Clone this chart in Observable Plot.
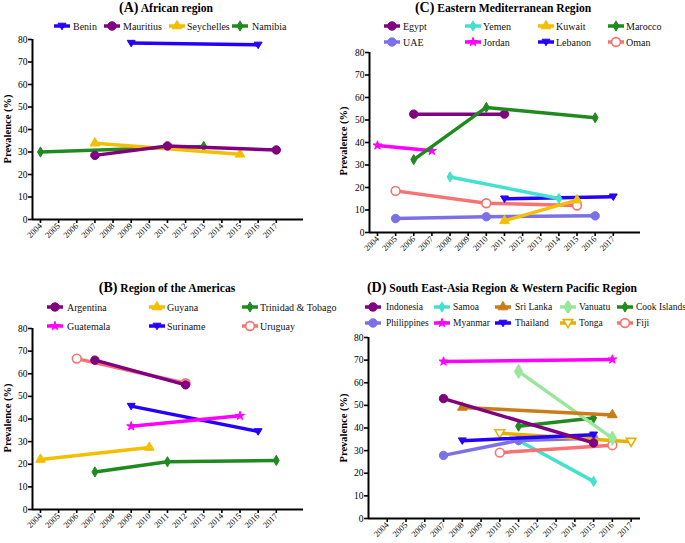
<!DOCTYPE html>
<html><head><meta charset="utf-8">
<script src="https://cdn.jsdelivr.net/npm/d3@7"></script>
<script src="https://cdn.jsdelivr.net/npm/@observablehq/plot@0.6"></script>
<style>
body{margin:0;background:#fff;font-family:'Liberation Serif','DejaVu Serif',serif;}
#root{position:relative;width:685px;height:543px;overflow:hidden;background:#fff;font-family:'Liberation Serif','DejaVu Serif',serif;}
.title{position:absolute;font-weight:bold;white-space:nowrap;transform:translate(-50%,-50%);font-size:11.6px;color:#000;}
.title span{font-size:14px;}
.leg{position:absolute;font-size:10px;white-space:nowrap;transform:translateY(-50%);color:#111;}
.icon{position:absolute;}
.ylab{position:absolute;font-weight:bold;font-size:10.5px;white-space:nowrap;transform:translate(-50%,-50%) rotate(-90deg);}
.pw{position:absolute;}
</style></head><body><div id="root"></div>
<script>
// ---------- data ----------
const yearTicks = [2004,2005,2006,2007,2008,2009,2010,2011,2012,2013,2014,2015,2016,2017];
const prevTicks = [0,10,20,30,40,50,60,70,80];

// (A) African region
const africaSeries = ["Benin","Mauritius","Seychelles","Namibia"];
const africaYears  = [[2009,2016],[2007,2011,2017],[2007,2015],[2004,2013]];
const africaValues = [[78.4,77.6],[28.5,32.7,30.9],[33.9,29.0],[30.0,32.5]];

// (B) Region of the Americas
const americasSeries = ["Argentina","Guyana","Trinidad & Tobago","Guatemala","Suriname","Uruguay"];
const americasYears  = [[2007,2012],[2004,2010],[2007,2011,2017],[2009,2015],[2009,2016],[2006,2012]];
const americasValues = [[66.0,55.1],[22.1,27.4],[16.6,21.1,21.7],[36.8,41.4],[45.7,34.5],[66.7,55.8]];

// (C) Eastern Mediterranean Region
const emSeries = ["Egypt","Yemen","Kuwait","Marocco","UAE","Jordan","Lebanon","Oman"];
const emYears  = [[2006,2011],[2008,2014],[2011,2015],[2006,2010,2016],[2005,2010,2016],[2004,2007],[2011,2017],[2005,2010,2015]];
const emValues = [[52.6,52.6],[24.7,15.1],[5.2,14.4],[32.4,55.6,51.0],[6.2,7.0,7.4],[38.7,36.3],[15.0,15.9],[18.5,13.0,12.0]];

// (D) South East-Asia Region & Western Pacific Region
const seaSeries = ["Indonesia","Samoa","Sri Lanka","Vanuatu","Cook Islands","Philippines","Myanmar","Thailand","Tonga","Fiji"];
const seaYears  = [[2007,2015],[2011,2015],[2008,2016],[2011,2016],[2011,2015],[2007,2011,2015],[2007,2016],[2008,2015],[2010,2017],[2010,2016]];
const seaValues = [[53.0,33.4],[34.5,16.4],[49.1,45.8],[65.0,35.5],[40.8,44.4],[27.9,34.5,35.5],[69.4,70.3],[34.4,37.0],[37.7,33.9],[29.1,32.4]];

// ---------- styles ----------
const triDown = {draw(ctx, size){ const h = Math.sqrt(size)*0.62; ctx.moveTo(-h,-h*0.7); ctx.lineTo(h,-h*0.7); ctx.lineTo(0,h*0.95); ctx.closePath(); }};
const C = {purple:"#800080", blue:"#2400ff", gold:"#f3bf00", green:"#1f8a1f", turq:"#44e0d0", mpurple:"#7b70e8",
           magenta:"#ff00ff", salmon:"#f87272", orange:"#c97c18", lgreen:"#9ae69a", tgold:"#e8b000"};
const S = {
  "Benin":{c:C.blue,s:triDown}, "Mauritius":{c:C.purple,s:"circle"}, "Seychelles":{c:C.gold,s:"triangle"}, "Namibia":{c:C.green,s:"diamond"},
  "Argentina":{c:C.purple,s:"circle"}, "Guyana":{c:C.gold,s:"triangle"}, "Trinidad & Tobago":{c:C.green,s:"diamond"},
  "Guatemala":{c:C.magenta,s:"star"}, "Suriname":{c:C.blue,s:triDown}, "Uruguay":{c:C.salmon,s:"circle",open:true},
  "Egypt":{c:C.purple,s:"circle"}, "Yemen":{c:C.turq,s:"diamond"}, "Kuwait":{c:C.gold,s:"triangle"}, "Marocco":{c:C.green,s:"diamond"},
  "UAE":{c:C.mpurple,s:"circle"}, "Jordan":{c:C.magenta,s:"star"}, "Lebanon":{c:C.blue,s:triDown}, "Oman":{c:C.salmon,s:"circle",open:true},
  "Indonesia":{c:C.purple,s:"circle"}, "Samoa":{c:C.turq,s:"diamond"}, "Sri Lanka":{c:C.orange,s:"triangle"}, "Vanuatu":{c:C.lgreen,s:"diamond",big:true},
  "Cook Islands":{c:C.green,s:"diamond"}, "Philippines":{c:C.mpurple,s:"circle"}, "Myanmar":{c:C.magenta,s:"star"},
  "Thailand":{c:C.blue,s:triDown}, "Tonga":{c:C.tgold,s:triDown,open:true}, "Fiji":{c:C.salmon,s:"circle",open:true}
};
const symMap = {circle:d3.symbolCircle, diamond:d3.symbolDiamond, star:d3.symbolStar, triangle:d3.symbolTriangle};
const rFor = st => st.open ? 4.4 : st.big ? 4.3 : st.s==="circle" ? 4.2 : st.s==="star" ? 2.8 : st.s==="diamond" ? 3.1 : 3.6;

const root = document.getElementById("root");
function el(tag, cls, css, html){ const e=document.createElement(tag); if(cls) e.className=cls; Object.assign(e.style, css||{}); if(html!=null) e.innerHTML=html; root.appendChild(e); return e; }

function legendIcon(name, cx, cy){
  const st = S[name];
  const svg = d3.create("svg").attr("width",18).attr("height",12).attr("class","icon")
    .style("left",(cx-9)+"px").style("top",(cy-6)+"px");
  svg.append("line").attr("x1",1).attr("x2",17).attr("y1",6).attr("y2",6).attr("stroke",st.c).attr("stroke-width",3.5);
  const type = typeof st.s === "string" ? symMap[st.s] : st.s;
  const r = rFor(st);
  svg.append("path").attr("transform","translate(9,6)").attr("d", d3.symbol(type, Math.PI*r*r)())
    .attr("fill", st.open ? "#fff" : st.c).attr("stroke", st.c).attr("stroke-width", st.open?1.6:1);
  root.appendChild(svg.node());
}

function panel(cfg){
  const {series, years, values, order, svgLeft, svgTop, yAxisX, y80, y0, axisRight, xDomain, mb} = cfg;
  const data = series.flatMap((s,i)=> years[i].map((yr,j)=>({series:s, year:yr, value:values[i][j]})));
  const marks = [
    Plot.axisX({ticks: yearTicks, tickFormat: d=>String(d), tickRotate:-45, tickSize:4, tickPadding:1, fontSize:8.5, strokeWidth:1.6, label:null}),
    Plot.axisY({ticks: prevTicks, tickSize:4, tickPadding:1, fontSize:9.5, strokeWidth:1.6, label:null}),
    Plot.ruleY([0], {strokeWidth:2}),
    Plot.ruleX([xDomain[0]], {y1:0, y2:80, strokeWidth:2})
  ];
  for (const name of order){
    const st = S[name];
    const rows = data.filter(d=>d.series===name);
    marks.push(Plot.line(rows, {x:"year", y:"value", stroke:st.c, strokeWidth:3.5}));
    marks.push(Plot.dot(rows, {x:"year", y:"value", symbol:st.s, r: rFor(st),
      fill: st.open ? "#fff" : st.c, stroke: st.c, strokeWidth: st.open?1.6:1}));
  }
  const width = axisRight - svgLeft + 10;
  const height = (y0 - svgTop) + mb;
  const p = Plot.plot({
    width, height,
    marginLeft: yAxisX - svgLeft, marginRight: 10, marginTop: y80 - svgTop, marginBottom: mb,
    x:{domain:xDomain}, y:{domain:[0,80]},
    style:{fontFamily:"'Liberation Serif','DejaVu Serif',serif", background:"transparent", color:"#000", overflow:"visible"},
    marks
  });
  const w = el("div","pw",{left:svgLeft+"px", top:svgTop+"px"});
  w.appendChild(p);
}

// ---------- panel A ----------
panel({series:africaSeries, years:africaYears, values:africaValues, order:["Namibia","Seychelles","Mauritius","Benin"],
  svgLeft:0, svgTop:30, yAxisX:32, y80:39, y0:219, axisRight:303, xDomain:[2003.56,2018.5], mb:35});
el("div","title",{left:"166px", top:"8px"},"<span>(A)</span> African region");
el("div","ylab",{left:"7px", top:"129px"},"Prevalence (%)");
[[62,73],[112,123],[177,187],[240,252]].forEach(([ix,tx],i)=>{ legendIcon(africaSeries[i], ix, 26); el("div","leg",{left:tx+"px", top:"26px"}, africaSeries[i]); });

// ---------- panel C ----------
panel({series:emSeries, years:emYears, values:emValues, order:["Oman","Lebanon","Jordan","UAE","Kuwait","Yemen","Egypt","Marocco"],
  svgLeft:340, svgTop:45, yAxisX:369, y80:52, y0:232, axisRight:640, xDomain:[2003.56,2018.5], mb:35});
el("div","title",{left:"503px", top:"8px"},"<span>(C)</span> Eastern Mediterranean Region");
el("div","ylab",{left:"343px", top:"141px"},"Prevalence (%)");
{
  const cols=[[392,403],[473,483],[546,556],[616,626]];
  emSeries.forEach((n,i)=>{ const [ix,tx]=cols[i%4]; const y = i<4?26:42; legendIcon(n, ix, y); el("div","leg",{left:tx+"px", top:y+"px"}, n); });
}

// ---------- panel B ----------
panel({series:americasSeries, years:americasYears, values:americasValues, order:["Uruguay","Suriname","Guatemala","Trinidad & Tobago","Guyana","Argentina"],
  svgLeft:0, svgTop:318, yAxisX:32, y80:328, y0:509, axisRight:303, xDomain:[2003.56,2018.5], mb:34});
el("div","title",{left:"167px", top:"288px"},"<span>(B)</span> Region of the Americas");
el("div","ylab",{left:"7px", top:"418px"},"Prevalence (%)");
{
  const cols=[[55,67],[157,167],[250,260]];
  americasSeries.forEach((n,i)=>{ const [ix,tx]=cols[i%3]; const y = i<3?307:326; legendIcon(n, ix, y); el("div","leg",{left:tx+"px", top:y+"px"}, n); });
}

// ---------- panel D ----------
panel({series:seaSeries, years:seaYears, values:seaValues, order:["Samoa","Philippines","Fiji","Tonga","Thailand","Myanmar","Cook Islands","Vanuatu","Sri Lanka","Indonesia"],
  svgLeft:340, svgTop:330, yAxisX:368, y80:337, y0:518, axisRight:640, xDomain:[2003,2017.5], mb:25});
el("div","title",{left:"502px", top:"288px"},"<span>(D)</span> South East-Asia Region &amp; Western Pacific Region");
el("div","ylab",{left:"343px", top:"428px"},"Prevalence (%)");
{
  const cols=[[373,386],[442,453],[503,515],[568,579],[625,636]];
  seaSeries.forEach((n,i)=>{ const [ix,tx]=cols[i%5]; const y = i<5?307:323; legendIcon(n, ix, y); el("div","leg",{left:tx+"px", top:y+"px", fontSize:"9.5px"}, n); });
}
</script></body></html>
